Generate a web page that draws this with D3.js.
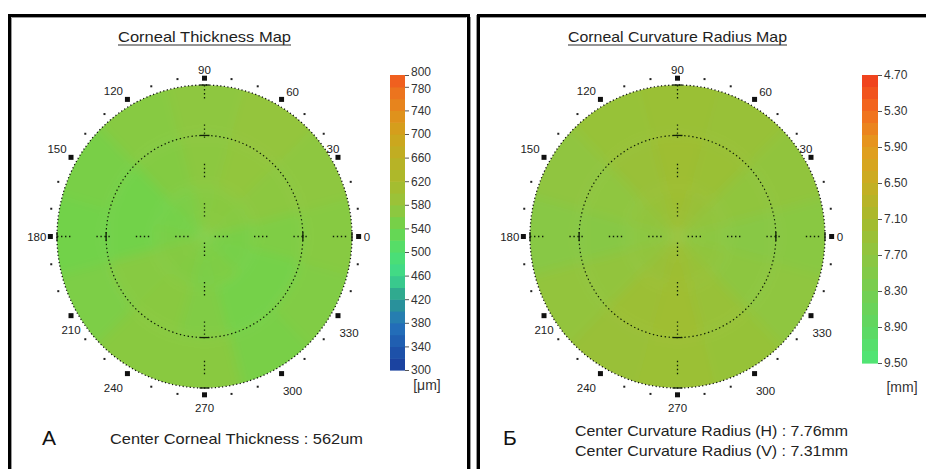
<!DOCTYPE html>
<html>
<head>
<meta charset="utf-8">
<script src="https://cdn.jsdelivr.net/npm/d3@7"></script>
<style>
  html, body { margin: 0; padding: 0; background: #fff; }
  svg { display: block; font-family: "Liberation Sans", Arial, sans-serif; }
</style>
</head>
<body>
<svg id="chart" width="926" height="469"></svg>
<script>
// ---- polar grid: 12 sectors centred on 0°, 30°, … 330° (counter-clockwise from the right), 3 rings
const sectorAngles = [0, 30, 60, 90, 120, 150, 180, 210, 240, 270, 300, 330];
const ringEdges = [0, 1 / 3, 2 / 3, 1];

// corneal thickness (µm) per sector, inner → outer ring
const thicknessInner = [552, 566, 568, 566, 556, 548, 552, 564, 562, 554, 558, 550];
const thicknessMid   = [558, 570, 576, 570, 562, 546, 546, 566, 568, 560, 548, 548];
const thicknessOuter = [566, 572, 578, 572, 566, 552, 546, 556, 568, 568, 552, 560];

// corneal curvature radius (mm) per sector, inner → outer ring
const curvatureInner = [7.76, 7.60, 7.42, 7.31, 7.44, 7.62, 7.76, 7.60, 7.42, 7.31, 7.44, 7.64];
const curvatureMid   = [7.86, 7.64, 7.40, 7.30, 7.42, 7.68, 7.88, 7.60, 7.36, 7.28, 7.46, 7.72];
const curvatureOuter = [7.82, 7.62, 7.46, 7.40, 7.48, 7.66, 7.84, 7.58, 7.42, 7.38, 7.50, 7.68];

// colour legends
const thicknessStops  = [300, 340, 380, 420, 460, 500, 540, 580, 620, 660, 700, 740, 780, 800];
const thicknessColors = ["#1a3c9c", "#1e58ad", "#2474bb", "#2b9a90", "#3ed88c", "#4ee070", "#6cd44c",
                         "#96c43c", "#a9ba2c", "#bcb024", "#d0a41c", "#e48c1c", "#ee6c1e", "#f25420"];
const thicknessTicks  = [800, 780, 740, 700, 660, 620, 580, 540, 500, 460, 420, 380, 340, 300];

const curvatureStops  = [4.7, 5.3, 5.9, 6.5, 7.1, 7.7, 8.3, 8.9, 9.5];
const curvatureColors = ["#f03c1e", "#f26c1e", "#e49c1e", "#c8ae22", "#a6ba2c", "#8ec640", "#76ce50", "#5ed862", "#4ee676"];
const curvatureTicks  = [4.7, 5.3, 5.9, 6.5, 7.1, 7.7, 8.3, 8.9, 9.5];

// meridian labels and marks
const meridianLabels = [0, 30, 60, 90, 120, 150, 180, 210, 240, 270, 300, 330];
const meridianDots = [10, 20, 40, 50, 70, 80, 100, 110, 130, 140, 160, 170,
                      190, 200, 220, 230, 250, 260, 280, 290, 310, 320, 340, 350];

const svg = d3.select("#chart");
const defs = svg.append("defs");
defs.append("filter").attr("id", "soft")
  .attr("x", "-20%").attr("y", "-20%").attr("width", "140%").attr("height", "140%")
  .append("feGaussianBlur").attr("stdDeviation", 6);

// label offsets from each meridian square (px)
const labelNudge = {
  30: [-5, -8], 60: [11, -7], 120: [-14, -8], 150: [-14, -8],
  210: [0, 14], 240: [-14, 14], 300: [11, 17], 330: [11, 17]
};

function drawPanel(p) {
  const g = svg.append("g");
  const cx = p.cx, cy = p.cy, rx = 147.5, ry = 151.5;
  const x = d3.scaleLinear().domain([-1, 1]).range([cx - rx, cx + rx]);
  const y = d3.scaleLinear().domain([-1, 1]).range([cy + ry, cy - ry]);

  // frame
  g.append("path").attr("d", p.frame).attr("fill", "none").attr("stroke", "#000").attr("stroke-width", 3);
  g.append("path").attr("d", p.frameShade).attr("fill", "none").attr("stroke", "#9a9a9a").attr("stroke-width", 1);

  // title (underlined)
  g.append("text").attr("x", cx).attr("y", 42)
    .attr("text-anchor", "middle").attr("font-size", 14.5).attr("fill", "#1e1e1e")
    .attr("textLength", p.titleWidth).attr("lengthAdjust", "spacingAndGlyphs")
    .text(p.title);
  g.append("line").attr("x1", cx - p.titleWidth / 2).attr("x2", cx + p.titleWidth / 2)
    .attr("y1", 45).attr("y2", 45).attr("stroke", "#2a2a2a").attr("stroke-width", 1);

  // map cells
  const clipId = "clip" + p.id;
  defs.append("clipPath").attr("id", clipId)
    .append("ellipse").attr("cx", cx).attr("cy", cy).attr("rx", rx).attr("ry", ry);
  const color = d3.scaleLinear().domain(p.stops).range(p.colors).interpolate(d3.interpolateRgb).clamp(true);
  const cells = [];
  p.rings.forEach((ring, ri) => ring.forEach((v, si) => cells.push({ ri, si, v })));
  const arc = d3.arc()
    .innerRadius(d => ringEdges[d.ri] * rx)
    .outerRadius(d => (d.ri === 2 ? 1.25 : ringEdges[d.ri + 1]) * rx)
    .startAngle(d => (90 - sectorAngles[d.si] - 15.5) * Math.PI / 180)
    .endAngle(d => (90 - sectorAngles[d.si] + 15.5) * Math.PI / 180);
  g.append("g").attr("clip-path", `url(#${clipId})`)
    .append("g").attr("filter", "url(#soft)")
    .append("g").attr("transform", `translate(${cx},${cy}) scale(1,${ry / rx})`)
    .selectAll("path").data(cells).join("path")
    .attr("d", arc).attr("fill", d => color(d.v));

  // outline and inner reference circle
  g.append("ellipse").attr("cx", cx).attr("cy", cy).attr("rx", rx).attr("ry", ry)
    .attr("fill", "none").attr("stroke", "#111").attr("stroke-width", 1.3).attr("stroke-dasharray", "1.2,2.4");
  g.append("ellipse").attr("cx", cx).attr("cy", cy).attr("rx", rx * 0.667).attr("ry", ry * 0.667)
    .attr("fill", "none").attr("stroke", "#122008").attr("stroke-width", 1.2).attr("stroke-dasharray", "1.4,2.6");

  // cross hairs
  const dash = "1.4,2.6,1.4,2.6,1.4,2.6,1.4,26";
  g.append("line").attr("x1", x(-1)).attr("x2", x(1)).attr("y1", y(0)).attr("y2", y(0))
    .attr("stroke", "#122008").attr("stroke-width", 1.3).attr("stroke-dasharray", dash);
  g.append("line").attr("x1", x(0)).attr("x2", x(0)).attr("y1", y(1)).attr("y2", y(-1))
    .attr("stroke", "#122008").attr("stroke-width", 1.3).attr("stroke-dasharray", dash);
  [-1, -0.667, 0.667, 1].forEach(t => {
    g.append("line").attr("x1", x(t)).attr("x2", x(t)).attr("y1", y(0) - 4.5).attr("y2", y(0) + 4.5)
      .attr("stroke", "#122008").attr("stroke-width", 1.3);
    g.append("line").attr("x1", x(0) - 5).attr("x2", x(0) + 5).attr("y1", y(t)).attr("y2", y(t))
      .attr("stroke", "#122008").attr("stroke-width", 1.3);
  });

  // meridian squares, dots and labels
  const mr = 1.045;
  const px = a => x(mr * Math.cos(a * Math.PI / 180));
  const py = a => y(mr * Math.sin(a * Math.PI / 180));
  g.selectAll("rect.sq").data(meridianLabels).join("rect").attr("class", "sq")
    .attr("x", a => px(a) - 2.5).attr("y", a => py(a) - 2.5).attr("width", 5).attr("height", 5).attr("fill", "#111");
  g.selectAll("rect.dot").data(meridianDots).join("rect").attr("class", "dot")
    .attr("x", a => x(1.055 * Math.cos(a * Math.PI / 180)) - 1)
    .attr("y", a => y(1.055 * Math.sin(a * Math.PI / 180)) - 1)
    .attr("width", 2).attr("height", 2).attr("fill", "#222");
  g.selectAll("text.ml").data(meridianLabels).join("text").attr("class", "ml")
    .attr("font-size", 11.5).attr("fill", "#222").attr("dominant-baseline", "central")
    .attr("text-anchor", a => a === 0 ? "start" : a === 180 ? "end" : "middle")
    .attr("x", a => a === 0 ? px(a) + 5 : a === 180 ? px(a) - 4 : (a === 90 || a === 270) ? px(a) : px(a) + labelNudge[a][0])
    .attr("y", a => a === 90 ? py(a) - 8 : a === 270 ? py(a) + 13 : (a === 0 || a === 180) ? py(a) : py(a) + labelNudge[a][1])
    .text(a => a);

  // colour legend
  const ls = d3.scaleLinear().domain(p.legendDomain).range(p.legendRange);
  const bands = d3.range(p.legendDomain[0], p.legendDomain[1] - 1e-9, p.bandStep);
  g.append("g").selectAll("rect").data(bands).join("rect")
    .attr("x", p.barX).attr("width", p.barW)
    .attr("y", v => Math.min(ls(v), ls(v + p.bandStep)))
    .attr("height", v => Math.abs(ls(v + p.bandStep) - ls(v)) + 0.6)
    .attr("fill", v => color(v + p.bandStep / 2));
  const axis = d3.axisRight(ls).tickValues(p.ticks).tickSize(4).tickPadding(2)
    .tickFormat(p.fmt);
  const ag = g.append("g").attr("transform", `translate(${p.barX + p.barW},0)`).call(axis);
  ag.select(".domain").remove();
  ag.selectAll(".tick line").attr("stroke", "#555");
  ag.selectAll(".tick text").attr("font-size", 12).attr("fill", "#333")
    .attr("font-family", "\"Liberation Sans\", Arial, sans-serif")
    .attr("dy", v => (p.labelShift && p.labelShift[v]) ? p.labelShift[v] : "0.32em");
  g.append("text").attr("x", p.unitX).attr("y", p.unitY).attr("text-anchor", "middle")
    .attr("dominant-baseline", "central").attr("font-size", 14).attr("fill", "#333").text(p.unit);

  // panel letter and centre readouts
  g.append("text").attr("x", p.letterX).attr("y", 445).attr("font-size", 21).attr("fill", "#111").text(p.letter);
  p.notes.forEach((t, i) => {
    g.append("text").attr("x", p.noteX).attr("y", p.noteY + i * 20).attr("font-size", 15).attr("fill", "#222")
      .attr("textLength", p.noteWidth[i]).attr("lengthAdjust", "spacingAndGlyphs").text(t);
  });
}

drawPanel({
  id: "A", cx: 204.5, cy: 236.5,
  frame: "M9.5,480 V15.5 H468.5 V480",
  frameShade: "M11.5,480 V17.5 H466.5 M470.5,17 V480",
  title: "Corneal Thickness Map", titleWidth: 173,
  rings: [thicknessInner, thicknessMid, thicknessOuter],
  stops: thicknessStops, colors: thicknessColors,
  legendDomain: [300, 800], legendRange: [370, 75], bandStep: 20,
  barX: 390, barW: 15, ticks: thicknessTicks, fmt: d3.format("d"),
  labelShift: { 800: "0.02em", 780: "0.5em" },
  unit: "[μm]", unitX: 427, unitY: 385,
  letter: "A", letterX: 42,
  notes: ["Center Corneal Thickness : 562um"], noteX: 110, noteY: 444, noteWidth: [253]
});

drawPanel({
  id: "B", cx: 677.5, cy: 236.5,
  frame: "M478.5,480 V15.5 H940",
  frameShade: "M476.5,15 V480 M480,17.5 H940",
  title: "Corneal Curvature Radius Map", titleWidth: 219,
  rings: [curvatureInner, curvatureMid, curvatureOuter],
  stops: curvatureStops, colors: curvatureColors,
  legendDomain: [4.7, 9.5], legendRange: [75, 363], bandStep: 0.2,
  barX: 862, barW: 16, ticks: curvatureTicks, fmt: d3.format(".2f"),
  unit: "[mm]", unitX: 902, unitY: 387,
  letter: "Б", letterX: 503,
  notes: ["Center Curvature Radius (H) : 7.76mm", "Center Curvature Radius (V) : 7.31mm"],
  noteX: 575, noteY: 436, noteWidth: [273, 273]
});
</script>
</body>
</html>
